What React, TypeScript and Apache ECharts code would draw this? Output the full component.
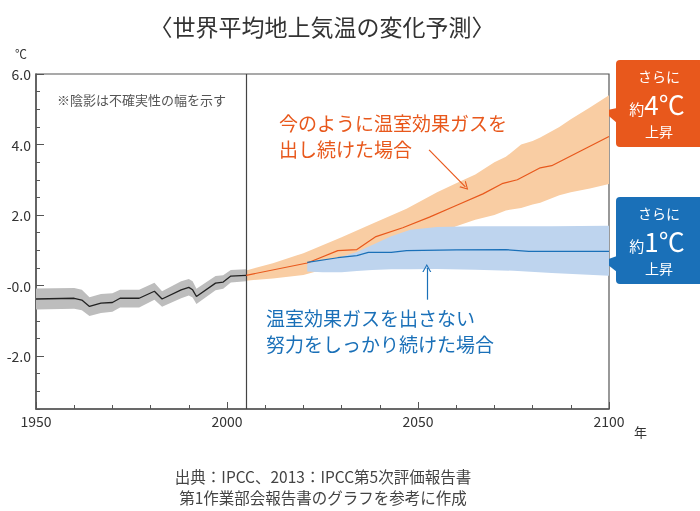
import React, { useEffect, useRef } from "react";
import * as echarts from "echarts";

// Historical observations (1950-2005)
const histYears = [1950, 1960, 1962, 1964, 1967, 1970, 1972, 1977, 1981, 1983, 1988, 1990, 1991, 1992, 1997, 1999, 2001, 2005];
const histTemp = [-0.38, -0.36, -0.41, -0.59, -0.5, -0.48, -0.36, -0.36, -0.16, -0.38, -0.12, -0.05, -0.12, -0.31, 0.07, 0.1, 0.27, 0.29];
const histLow = [-0.68, -0.66, -0.7, -0.86, -0.78, -0.74, -0.62, -0.62, -0.4, -0.6, -0.36, -0.28, -0.34, -0.52, -0.13, -0.09, 0.09, 0.12];
const histHigh = [-0.08, -0.07, -0.12, -0.33, -0.24, -0.22, -0.12, -0.12, 0.08, -0.16, 0.12, 0.19, 0.12, -0.09, 0.27, 0.29, 0.44, 0.46];

// High emission scenario
const highYears = [2005, 2021, 2029, 2034, 2039, 2046, 2053, 2060, 2067, 2072, 2076, 2082, 2085, 2100];
const highTemp = [0.29, 0.64, 0.99, 1.02, 1.39, 1.64, 1.94, 2.27, 2.6, 2.89, 3.0, 3.34, 3.4, 4.23];
const highBandYears = [2005, 2012, 2020, 2030, 2038, 2047, 2055, 2060, 2065, 2070, 2073, 2077, 2080, 2082, 2087, 2090, 2095, 2100];
const highUpper = [0.43, 0.63, 0.92, 1.37, 1.75, 2.18, 2.65, 2.9, 3.15, 3.5, 3.65, 4.0, 4.1, 4.2, 4.5, 4.72, 5.05, 5.4];
const highLower = [0.14, 0.2, 0.3, 0.6, 0.85, 1.15, 1.45, 1.68, 1.87, 2.0, 2.13, 2.2, 2.3, 2.35, 2.56, 2.65, 2.75, 2.88];

// Low emission scenario
const lowYears = [2021, 2029, 2034, 2037, 2043, 2047, 2060, 2073, 2079, 2100];
const lowTemp = [0.66, 0.79, 0.85, 0.94, 0.94, 0.99, 1.01, 1.02, 0.97, 0.97];
const lowBandYears = [2021, 2025, 2030, 2034, 2038, 2043, 2048, 2055, 2065, 2075, 2085, 2100];
const lowUpper = [0.66, 0.72, 0.82, 0.95, 1.15, 1.4, 1.58, 1.66, 1.68, 1.68, 1.68, 1.7];
const lowLower = [0.4, 0.38, 0.38, 0.41, 0.44, 0.46, 0.46, 0.47, 0.45, 0.42, 0.36, 0.28];

const xTickLabels = [1950, 2000, 2050, 2100];
const yTickLabels = [6, 4, 2, 0, -2];

const FONT = "Noto Sans CJK JP";
const ORANGE = "#e8581c";
const BLUE = "#1a70b8";

function zip(xs: number[], ys: number[]) {
  return xs.map((x, i) => [x, ys[i]]);
}

function bandSeries(years: number[], lo: number[], hi: number[], color: string, z: number) {
  return {
    type: "custom",
    z,
    silent: true,
    clip: true,
    encode: { x: 0, y: [1, 2] },
    data: years.map((y, i) => [y, lo[i], hi[i]]),
    renderItem: (params: any, api: any) => {
      if (params.dataIndex !== 0) return null;
      const pts: number[][] = [];
      for (let i = 0; i < years.length; i++) pts.push(api.coord([years[i], hi[i]]));
      for (let i = years.length - 1; i >= 0; i--) pts.push(api.coord([years[i], lo[i]]));
      return { type: "polygon", shape: { points: pts }, style: { fill: color } };
    },
  };
}

const chevron = "path://M5,0 L10,10 L8.6,10 L5,2.6 L1.4,10 L0,10 Z";

function callout(y0: number, color: string, tip: number[][], big: string, ys: number[]) {
  return [
    { type: "rect", shape: { x: 616, y: y0, width: 92, height: 87, r: 4 }, style: { fill: color } },
    { type: "polygon", shape: { points: tip }, style: { fill: color } },
    { type: "text", x: 659, y: ys[0], style: { text: "さらに", font: `14px '${FONT}'`, fill: "#fff", align: "center", verticalAlign: "middle" } },
    {
      type: "text", x: 657, y: ys[1],
      style: {
        text: `{a|約}{b|${big}}`, fill: "#fff", align: "center", verticalAlign: "middle",
        rich: {
          a: { fontSize: 15, lineHeight: 22, fontFamily: FONT, fill: "#fff", color: "#fff", verticalAlign: "bottom" },
          b: { fontSize: 26, lineHeight: 22, fontFamily: FONT, fill: "#fff", color: "#fff", verticalAlign: "bottom" },
        },
      },
    },
    { type: "text", x: 659, y: ys[2], style: { text: "上昇", font: `14px '${FONT}'`, fill: "#fff", align: "center", verticalAlign: "middle" } },
  ];
}

function label(text: string, x: number, y: number, size: number, fill: string, align = "left") {
  return { type: "text", x, y, style: { text, font: `${size}px '${FONT}'`, fill, align, verticalAlign: "middle" } };
}

export default function App() {
  const ref = useRef<HTMLDivElement>(null);
  useEffect(() => {
    if (!ref.current) return;
    const chart = echarts.init(ref.current, null, { renderer: "svg" });
    chart.setOption({
      animation: false,
      textStyle: { fontFamily: FONT },
      grid: { left: 36, right: 91, top: 74, bottom: 102, show: true, borderColor: "#555", borderWidth: 1.2 },
      xAxis: {
        type: "value",
        min: 1950,
        max: 2100,
        interval: 50,
        axisLine: { onZero: false, lineStyle: { color: "#555", width: 1.5 } },
        axisTick: { inside: true, length: 7, lineStyle: { color: "#555" } },
        minorTick: { show: true, splitNumber: 5, length: 4, lineStyle: { color: "#555" } },
        splitLine: { show: false },
        axisLabel: {
          color: "#333",
          fontSize: 14,
          fontFamily: FONT,
          margin: 5,
          formatter: (v: number) => (xTickLabels.includes(v) ? String(v) : ""),
        },
      },
      yAxis: [
        {
          type: "value",
          position: "left",
          min: -3.5,
          max: 6,
          interval: 0.5,
          axisLine: { show: true, onZero: false, lineStyle: { color: "#555", width: 1.5 } },
          axisTick: { show: true, inside: true, length: 4, lineStyle: { color: "#555" } },
          splitLine: { show: false },
          axisLabel: {
            color: "#333",
            fontSize: 14,
            fontFamily: FONT,
            margin: 5,
            interval: 0,
            formatter: (v: number) => {
              const r = Math.round(v * 10) / 10;
              if (!yTickLabels.includes(r)) return "";
              return r === 0 ? "-0.0" : r.toFixed(1);
            },
          },
        },
        {
          type: "value",
          position: "left",
          offset: 0,
          min: -3.5,
          max: 6,
          axisLine: { show: false },
          axisTick: { show: true, inside: true, length: 8, customValues: yTickLabels, lineStyle: { color: "#555" } },
          axisLabel: { show: false },
          splitLine: { show: false },
        },
      ],
      series: [
        bandSeries(histYears, histLow, histHigh, "#bdbdbd", 1),
        bandSeries(highBandYears, highLower, highUpper, "#f9cda3", 2),
        bandSeries(lowBandYears, lowLower, lowUpper, "#bed4ee", 3),
        {
          type: "line",
          z: 5,
          data: zip(highYears, highTemp),
          symbol: "none",
          lineStyle: { color: ORANGE, width: 1.2 },
          markLine: {
            silent: true,
            symbol: ["none", chevron],
            symbolSize: [9, 8],
            label: { show: false },
            lineStyle: { color: ORANGE, width: 1.2, type: "solid" },
            data: [[{ coord: [2052.9, 3.85] }, { coord: [2062.4, 2.8] }]],
          },
        },
        {
          type: "line",
          z: 5,
          data: zip(lowYears, lowTemp),
          symbol: "none",
          lineStyle: { color: BLUE, width: 1.2 },
          markLine: {
            silent: true,
            symbol: ["none", chevron],
            symbolSize: [9, 8],
            label: { show: false },
            lineStyle: { color: BLUE, width: 1.2, type: "solid" },
            data: [[{ coord: [2052.3, -0.4] }, { coord: [2052.3, 0.5] }]],
          },
        },
        {
          type: "line",
          z: 6,
          data: zip(histYears, histTemp),
          symbol: "none",
          lineStyle: { color: "#222", width: 1.3 },
          markLine: {
            silent: true,
            symbol: ["none", "none"],
            label: { show: false },
            lineStyle: { color: "#444", width: 1.2, type: "solid" },
            data: [{ xAxis: 2005 }],
          },
        },
      ],
      graphic: [
        label("〈世界平均地上気温の変化予測〉", 322, 26, 23, "#333", "center"),
        label("℃", 15, 53, 12, "#333"),
        label("年", 634, 431, 13, "#333"),
        label("※陰影は不確実性の幅を示す", 57, 99, 13, "#555"),
        label("今のように温室効果ガスを", 279, 122, 19, ORANGE),
        label("出し続けた場合", 279, 148, 19, ORANGE),
        label("温室効果ガスを出さない", 266, 317, 19, BLUE),
        label("努力をしっかり続けた場合", 266, 343, 19, BLUE),
        label("出典：IPCC、2013：IPCC第5次評価報告書", 323, 476, 15.5, "#444", "center"),
        label("第1作業部会報告書のグラフを参考に作成", 323, 497, 15.5, "#444", "center"),
        ...callout(60, ORANGE, [[617, 108], [603, 111], [617, 123]], "4℃", [76, 105, 131]),
        ...callout(197, BLUE, [[617, 256], [603, 261], [617, 272]], "1℃", [213, 242, 268]),
      ],
    });
    return () => chart.dispose();
  }, []);
  return <div ref={ref} style={{ position: "fixed", left: 0, top: 0, width: 700, height: 511 }} />;
}
